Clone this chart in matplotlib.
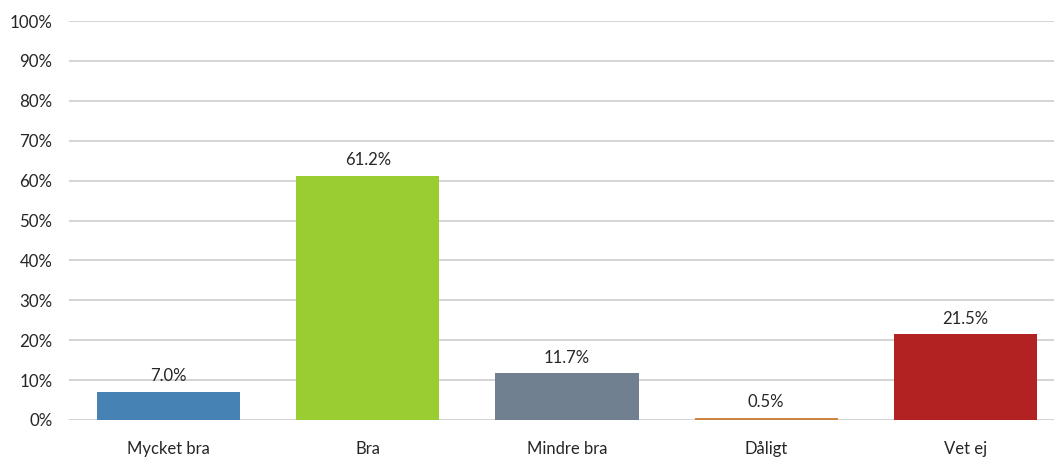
import matplotlib
matplotlib.use("Agg")
import matplotlib.pyplot as plt
from matplotlib.ticker import FuncFormatter

categories = ["Mycket bra", "Bra", "Mindre bra", "Dåligt", "Vet ej"]
values = [7.0, 61.2, 11.7, 0.5, 21.5]
colors = ["#4682B4", "#9ACD32", "#708090", "#CD853F", "#B22222"]
yticks = list(range(0, 101, 10))

plt.rcParams["font.family"] = ["Lato", "DejaVu Sans"]

W, H = 1054, 459
fig = plt.figure(figsize=(W / 100, H / 100), dpi=100)
left, right = 69, 1065
bottom, top = 420, 21
ax = fig.add_axes([left / W, 1 - bottom / H, (right - left) / W, (bottom - top) / H])

x = list(range(len(categories)))
ax.bar(x, values, width=0.718, color=colors, zorder=3)
for xi, v in zip(x, values):
    ax.annotate(f"{v:.1f}%", (xi, v), xytext=(0, 5.5), textcoords="offset points",
                ha="center", va="bottom", fontsize=12, color="#262626")

ax.set_xlim(-0.5, len(categories) - 0.5)
ax.set_ylim(0, 100)
ax.set_yticks(yticks)
ax.yaxis.set_major_formatter(FuncFormatter(lambda v, p: f"{v:.0f}%"))
ax.set_xticks(x)
ax.set_xticklabels(categories)
ax.grid(axis="y", color="#D4D4D4", linewidth=1.4, zorder=0)
ax.tick_params(axis="y", length=0, pad=12, labelsize=12.2, labelcolor="#262626")
ax.tick_params(axis="x", length=0, pad=15, labelsize=12, labelcolor="#262626")
for s in ax.spines.values():
    s.set_visible(False)

fig.savefig("out.png", dpi=100)
